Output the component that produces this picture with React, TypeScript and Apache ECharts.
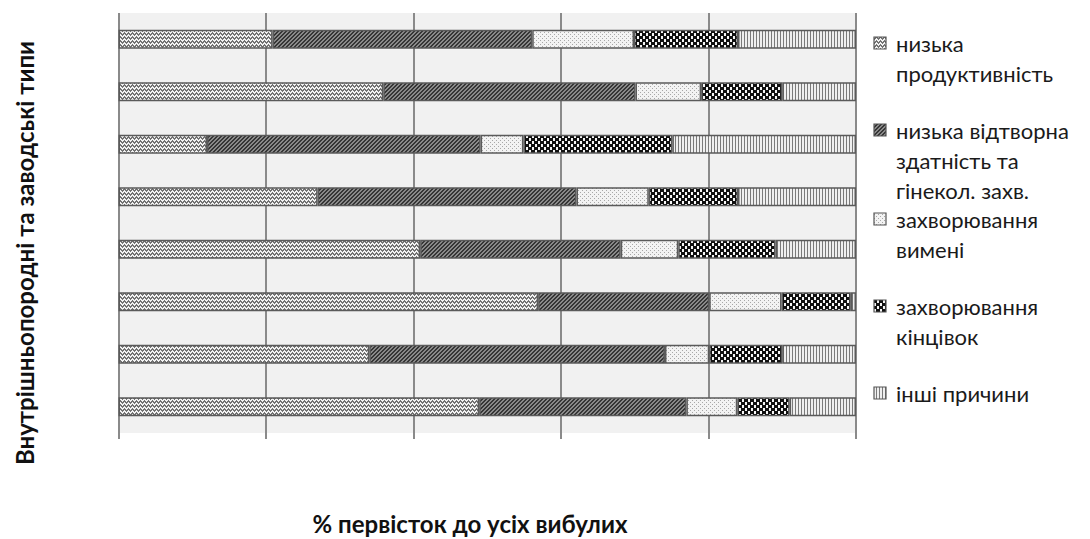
import React, { useEffect, useRef } from "react";
import * as echarts from "echarts";

const categories = ["1", "2", "3", "4", "5", "6", "7", "8"];
const seriesNames = [
  "низька продуктивність",
  "низька відтворна здатність та гінекол. захв.",
  "захворювання вимені",
  "захворювання кінцівок",
  "інші причини",
];
const legendLines = [
  ["низька", "продуктивність"],
  ["низька відтворна", "здатність та", "гінекол. захв."],
  ["захворювання", "вимені"],
  ["захворювання", "кінцівок"],
  ["інші причини"],
];
const lowProductivity = [20.9, 35.9, 12.0, 27.0, 40.9, 56.9, 34.0, 48.9];
const lowFertility = [35.2, 34.2, 37.1, 35.1, 27.2, 23.2, 40.1, 28.1];
const udderDisease = [13.8, 8.9, 5.8, 9.8, 7.8, 9.8, 6.0, 6.9];
const limbDisease = [14.1, 11.0, 20.2, 12.1, 13.2, 9.4, 9.9, 7.1];
const otherReasons = [16.0, 10.0, 24.9, 16.0, 10.9, 0.7, 10.0, 9.0];
const xTicks = [0, 20, 40, 60, 80, 100];
const yTitle = "Внутрішньопородні та заводські типи";
const xTitle = "% первісток до усіх вибулих";

function makePattern(w: number, h: number, pixel: (x: number, y: number) => string) {
  const c = document.createElement("canvas");
  c.width = w;
  c.height = h;
  const ctx = c.getContext("2d")!;
  for (let y = 0; y < h; y++) {
    for (let x = 0; x < w; x++) {
      ctx.fillStyle = pixel(x, y);
      ctx.fillRect(x, y, 1, 1);
    }
  }
  return { image: c, repeat: "repeat", imageWidth: w, imageHeight: h } as any;
}

export default function App() {
  const ref = useRef<HTMLDivElement>(null);
  useEffect(() => {
    if (!ref.current) return;
    const chart = echarts.init(ref.current, undefined, { renderer: "svg" });

    const zig = [0, 1, 2, 1];
    const pZig = makePattern(4, 4, (x, y) =>
      y === zig[x] || y === (zig[x] + 1) % 4 ? "#727272" : "#f2f2f2"
    );
    const pDiag = makePattern(4, 4, (x, y) =>
      (x + y) % 4 < 2 ? "#363636" : "#8a8a8a"
    );
    const pDot = makePattern(4, 4, (x, y) =>
      (x === 0 && y === 0) || (x === 2 && y === 2) ? "#a8a8a8" : "#f3f3f3"
    );
    const pCheck = makePattern(6, 6, (x, y) => {
      const a = y < 3 && (x === 1 || x === 2);
      const b = y >= 3 && (x === 4 || x === 5);
      return a || b ? "#f6f6f6" : "#111111";
    });
    const pVert = makePattern(3, 4, (x) => (x === 0 ? "#7a7a7a" : "#efefef"));
    const patterns = [pZig, pDiag, pDot, pCheck, pVert];
    const values = [lowProductivity, lowFertility, udderDisease, limbDisease, otherReasons];

    const legendFirstY = [43, 130, 219, 306, 393];
    const lh = 30;
    const legendGraphics: any[] = [];
    legendLines.forEach((lines, i) => {
      legendGraphics.push({
        type: "rect",
        shape: { x: 874, y: legendFirstY[i] - 6, width: 12, height: 12 },
        style: { fill: patterns[i], stroke: "#555555", lineWidth: 1.2 },
      });
      lines.forEach((line, j) => {
        legendGraphics.push({
          type: "text",
          x: 896,
          y: legendFirstY[i] + j * lh,
          style: {
            text: line,
            font: "22px Lato",
            fill: "#1a1a1a",
            lineHeight: 22,
            verticalAlign: "middle",
            align: "left",
          },
        });
      });
    });

    chart.setOption({
      animation: false,
      backgroundColor: "#ffffff",
      grid: {
        left: 118.5,
        right: 234,
        top: 13,
        bottom: 106,
        show: true,
        backgroundColor: "#f1f1f1",
        borderWidth: 0,
      },
      xAxis: {
        type: "value",
        min: xTicks[0],
        max: xTicks[xTicks.length - 1],
        interval: xTicks[1] - xTicks[0],
        axisLabel: { show: false },
        axisLine: { show: false },
        axisTick: { show: true, length: 6, lineStyle: { color: "#8a8a8a", width: 2 } },
        splitLine: { show: true, lineStyle: { color: "#8a8a8a", width: 2 } },
      },
      yAxis: {
        type: "category",
        data: categories,
        inverse: true,
        axisLabel: { show: false },
        axisLine: { show: false },
        axisTick: { show: false },
        splitLine: { show: false },
      },
      series: seriesNames.map((name, i) => ({
        name,
        type: "bar",
        stack: "total",
        data: values[i],
        barWidth: 19,
        itemStyle: { color: patterns[i], borderColor: "#5a5a5a", borderWidth: 1.5 },
      })),
      graphic: [
        {
          type: "text",
          x: 24,
          y: 253,
          rotation: Math.PI / 2,
          style: {
            text: yTitle,
            font: "bold 24px Lato",
            fill: "#111",
            lineHeight: 24,
            align: "center",
            verticalAlign: "middle",
          },
        },
        {
          type: "text",
          x: 470,
          y: 523,
          style: {
            text: xTitle,
            font: "bold 24px Lato",
            fill: "#111",
            lineHeight: 24,
            align: "center",
            verticalAlign: "middle",
          },
        },
        ...legendGraphics,
      ],
    });
    return () => chart.dispose();
  }, []);
  return (
    <div
      ref={ref}
      style={{ position: "absolute", left: 0, top: 0, width: 1090, height: 539 }}
    />
  );
}
